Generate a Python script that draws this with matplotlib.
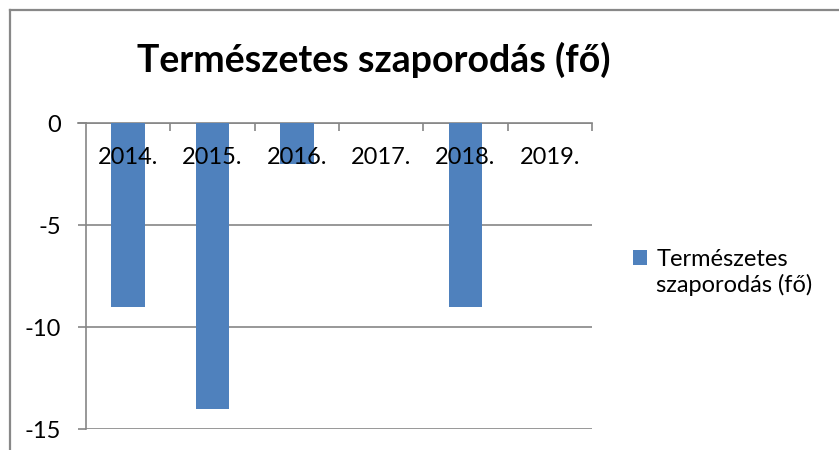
import matplotlib
matplotlib.use("Agg")
import matplotlib.pyplot as plt
from matplotlib.lines import Line2D

# Adatok
years = ["2014.", "2015.", "2016.", "2017.", "2018.", "2019."]
values = [-9, -14, -2, 0, -9, 0]
series_name = ["Természetes", "szaporodás (fő)"]
title = "Természetes szaporodás (fő)"
y_ticks = [0, -5, -10, -15]

bar_color = "#4F81BD"
line_color = "#868686"

plt.rcParams["font.family"] = ["Lato", "DejaVu Sans"]

fig = plt.figure(figsize=(8.39, 4.5), dpi=100)
ax = fig.add_axes([86 / 839, 1 - 429 / 450, (592 - 86) / 839, (429 - 123) / 450])

x = list(range(len(years)))
ax.bar(x, values, width=0.4, color=bar_color, label=series_name[0], zorder=3)

ax.set_xlim(-0.5, len(years) - 0.5)
ax.set_ylim(-15, 0)

# vízszintes rácsvonalak
ax.set_yticks(y_ticks)
ax.set_yticklabels([str(v) for v in y_ticks], fontsize=17)
ax.yaxis.grid(True, color=line_color, linewidth=1.2, zorder=0)
ax.tick_params(axis="y", direction="out", length=6, width=1.2,
               color=line_color, pad=12)

# kategória tengely a 0 vonalon, osztások lefelé
ax.xaxis.set_ticks_position("top")
ax.set_xticks([i + 0.5 for i in x])
ax.set_xticklabels([])
ax.tick_params(axis="x", direction="in", length=5.5, width=1.2, color=line_color)
for i, lab in zip(x, years):
    ax.text(i, -1.67, lab, ha="center", va="center", fontsize=17, zorder=4)

for s in ["right", "bottom"]:
    ax.spines[s].set_visible(False)
ax.spines["left"].set_color(line_color)
ax.spines["left"].set_linewidth(1.2)
ax.spines["top"].set_color(line_color)
ax.spines["top"].set_linewidth(1.2)
# 0 vonal balra kinyúló része
ax.plot([-0.6, -0.5], [0, 0], color=line_color, linewidth=1.2, clip_on=False)

fig.text(374 / 839, 1 - 60 / 450, title, ha="center", va="center",
         fontsize=27, fontweight="bold")

# jelmagyarázat: négyzet az első sor mellett, második sor alatta
fig.legend(loc="center left", bbox_to_anchor=(633 / 839, 1 - 259 / 450),
           frameon=False, fontsize=17, handlelength=0.6, handleheight=0.6,
           handletextpad=0.38, borderpad=0, borderaxespad=0)
fig.text(656 / 839, 1 - 285 / 450, series_name[1], ha="left", va="center",
         fontsize=17)

# diagram kerete (bal és felső)
fig.add_artist(Line2D([9.5 / 839, 9.5 / 839], [0, 1 - 9.5 / 450],
                      transform=fig.transFigure, color="#888888", linewidth=1.6))
fig.add_artist(Line2D([9.5 / 839, 1], [1 - 9.5 / 450, 1 - 9.5 / 450],
                      transform=fig.transFigure, color="#888888", linewidth=1.6))

fig.savefig("out.png", dpi=100)
